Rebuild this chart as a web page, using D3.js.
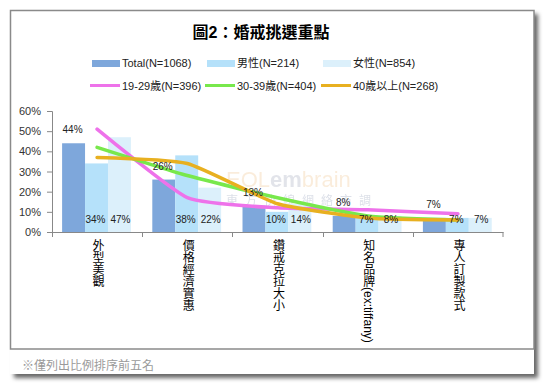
<!DOCTYPE html>
<html>
<head>
<meta charset="utf-8">
<script src="https://cdn.jsdelivr.net/npm/d3@7"></script>
<style>
  body { margin: 0; background: #fff; }
  text { font-family: "Liberation Sans", "Noto Sans CJK TC", sans-serif; }
</style>
</head>
<body>
<script>
'use strict';

var width = 547,
    height = 386;

// data
var categories = ["外型美觀", "價格經濟實惠", "鑽戒克拉大小", "知名品牌(ex:tiffany)", "專人訂製款式"];
var barSeries = ["Total(N=1068)", "男性(N=214)", "女性(N=854)"];
var barColors = ["#7ea7db", "#b5e1fa", "#dcf0fb"];
var totalVals = [0.44, 0.26, 0.13, 0.08, 0.07];
var maleVals = [0.34, 0.38, 0.10, 0.07, 0.07];
var femaleVals = [0.47, 0.22, 0.14, 0.08, 0.07];
var lineSeries = ["19-29歲(N=396)", "30-39歲(N=404)", "40歲以上(N=268)"];
var lineColors = ["#ee72ea", "#78e84c", "#e8b020"];
var age1929 = [0.51, 0.17, 0.12, 0.11, 0.09];
var age3039 = [0.42, 0.28, 0.17, 0.08, 0.06];
var age40up = [0.37, 0.34, 0.14, 0.07, 0.06];
var yTicks = [0, 0.1, 0.2, 0.3, 0.4, 0.5, 0.6];

var barData = [totalVals, maleVals, femaleVals];
var lineData = [age1929, age3039, age40up];

var svg = d3.select("body").append("svg")
  .attr("width", width)
  .attr("height", height);

// drop shadow
var defs = svg.append("defs");
var f = defs.append("filter").attr("id", "shadow")
  .attr("x", "-5%").attr("y", "-5%").attr("width", "115%").attr("height", "115%");
f.append("feDropShadow")
  .attr("dx", 4).attr("dy", 4).attr("stdDeviation", 2)
  .attr("flood-color", "#000").attr("flood-opacity", 0.6);

// outer panel + footer
svg.append("rect")
  .attr("x", 10).attr("y", 10).attr("width", 524).attr("height", 364)
  .attr("fill", "#fff")
  .attr("filter", "url(#shadow)");
svg.append("rect")
  .attr("x", 10.5).attr("y", 10.5).attr("width", 523.5).attr("height", 338.5)
  .attr("fill", "#fff")
  .attr("stroke", "#8a8a8a")
  .attr("stroke-width", 1.5);

svg.append("text")
  .attr("x", 22).attr("y", 370)
  .attr("font-size", 12)
  .attr("fill", "#9a9a9a")
  .text("※僅列出比例排序前五名");

// title
svg.append("text")
  .attr("x", 261).attr("y", 38)
  .attr("text-anchor", "middle")
  .attr("font-size", 16)
  .attr("font-weight", "bold")
  .attr("fill", "#000")
  .text("圖2：婚戒挑選重點");

// legend
var legX = [92, 207, 323];
var leg1 = svg.append("g");
barSeries.forEach(function(s, i) {
  leg1.append("rect")
    .attr("x", legX[i]).attr("y", 60).attr("width", 28).attr("height", 7)
    .attr("fill", barColors[i]);
  leg1.append("text")
    .attr("x", legX[i] + 30).attr("y", 67)
    .attr("font-size", 11).attr("fill", "#222")
    .text(s);
});
lineSeries.forEach(function(s, i) {
  leg1.append("line")
    .attr("x1", legX[i] - 2).attr("x2", legX[i] + 28)
    .attr("y1", 85.5).attr("y2", 85.5)
    .attr("stroke", lineColors[i]).attr("stroke-width", 3);
  leg1.append("text")
    .attr("x", legX[i] + 30).attr("y", 90)
    .attr("font-size", 11).attr("fill", "#222")
    .text(s);
});

// scales
var x = d3.scaleBand()
  .domain(categories)
  .range([52, 503]);
var bw = x.bandwidth();
var xInner = d3.scaleBand()
  .domain(barSeries)
  .range([bw * 0.112, bw * 0.875]);
var y = d3.scaleLinear()
  .domain([0, 0.6])
  .range([232, 111]);

// watermark (faint logo behind the plot)
var wm = svg.append("g").attr("opacity", 0.4);
var wmt = wm.append("text").attr("x", 226).attr("y", 187)
  .attr("font-size", 22).attr("font-family", "Verdana, DejaVu Sans, sans-serif");
wmt.append("tspan").attr("fill", "#f3d2a8").text("EOL");
wmt.append("tspan").attr("fill", "#b8bccb").attr("font-weight", "bold").text("em");
wmt.append("tspan").attr("fill", "#f3d2a8").text("brain");
wm.append("text").attr("x", 226).attr("y", 205)
  .attr("font-size", 12).attr("fill", "#a7b0c6")
  .attr("letter-spacing", 7)
  .text("東方快線網絡市調");

// bars
var groups = svg.append("g").selectAll("g")
  .data(barSeries)
  .join("g")
  .attr("fill", function(d, i) { return barColors[i]; });

groups.selectAll("rect")
  .data(function(d, i) {
    return barData[i].map(function(v, j) { return {s: d, c: categories[j], v: v}; });
  })
  .join("rect")
  .attr("x", function(d) { return x(d.c) + xInner(d.s); })
  .attr("width", xInner.bandwidth())
  .attr("y", function(d) { return y(d.v); })
  .attr("height", function(d) { return y(0) - y(d.v); });

// axes
var yAxis = d3.axisLeft(y)
  .tickValues(yTicks)
  .tickSize(5)
  .tickPadding(6)
  .tickFormat(d3.format(".0%"));
var gy = svg.append("g")
  .attr("transform", "translate(52,0)")
  .call(yAxis);
gy.select(".domain").attr("stroke", "#888").attr("d", "M-5,111.5H0.5V232.5");
gy.selectAll(".tick line").attr("stroke", "#888");
gy.selectAll(".tick text").attr("font-size", 11).attr("fill", "#333")
  .attr("font-family", "Liberation Sans, sans-serif");

var gx = svg.append("g");
gx.append("line")
  .attr("x1", 52).attr("x2", 503.5)
  .attr("y1", 232.5).attr("y2", 232.5)
  .attr("stroke", "#888");
gx.selectAll("line.tk")
  .data(categories.concat([null]))
  .join("line")
  .attr("class", "tk")
  .attr("x1", function(d) { return d === null ? 503 : Math.round(x(d)) + 0.5; })
  .attr("x2", function(d) { return d === null ? 503 : Math.round(x(d)) + 0.5; })
  .attr("y1", 232).attr("y2", 237)
  .attr("stroke", "#888");
gx.selectAll("text")
  .data(categories)
  .join("text")
  .attr("x", function(d) { return x(d) + bw / 2; })
  .attr("y", 239)
  .attr("font-size", 12)
  .attr("fill", "#000")
  .style("writing-mode", "vertical-rl")
  .attr("font-family", "Noto Sans CJK TC, sans-serif")
  .text(function(d) { return d; });

// lines
var line = d3.line()
  .x(function(d, i) { return x(categories[i]) + bw / 2; })
  .y(function(d) { return y(d); })
  .curve(d3.curveCardinal.tension(0.5));

svg.append("g").selectAll("path")
  .data(lineData)
  .join("path")
  .attr("d", line)
  .attr("fill", "none")
  .attr("stroke", function(d, i) { return lineColors[i]; })
  .attr("stroke-width", 3.5)
  .attr("stroke-linecap", "round");

// value labels
var fmt = d3.format(".0%");
var lab = svg.append("g")
  .attr("font-size", 10)
  .attr("fill", "#222")
  .attr("text-anchor", "middle");
lab.selectAll("text.tot")
  .data(totalVals)
  .join("text")
  .attr("class", "tot")
  .attr("x", function(d, i) { return x(categories[i]) + xInner(barSeries[0]) + xInner.bandwidth() / 2 - 1; })
  .attr("y", function(d) { return y(d) - 10; })
  .text(fmt);
[maleVals, femaleVals].forEach(function(vals, k) {
  lab.selectAll("text.s" + k)
    .data(vals)
    .join("text")
    .attr("class", "s" + k)
    .attr("x", function(d, i) { return x(categories[i]) + xInner(barSeries[k + 1]) + xInner.bandwidth() / 2 + (k === 0 ? -1 : 1); })
    .attr("y", 223)
    .text(fmt);
});
</script>
</body>
</html>
